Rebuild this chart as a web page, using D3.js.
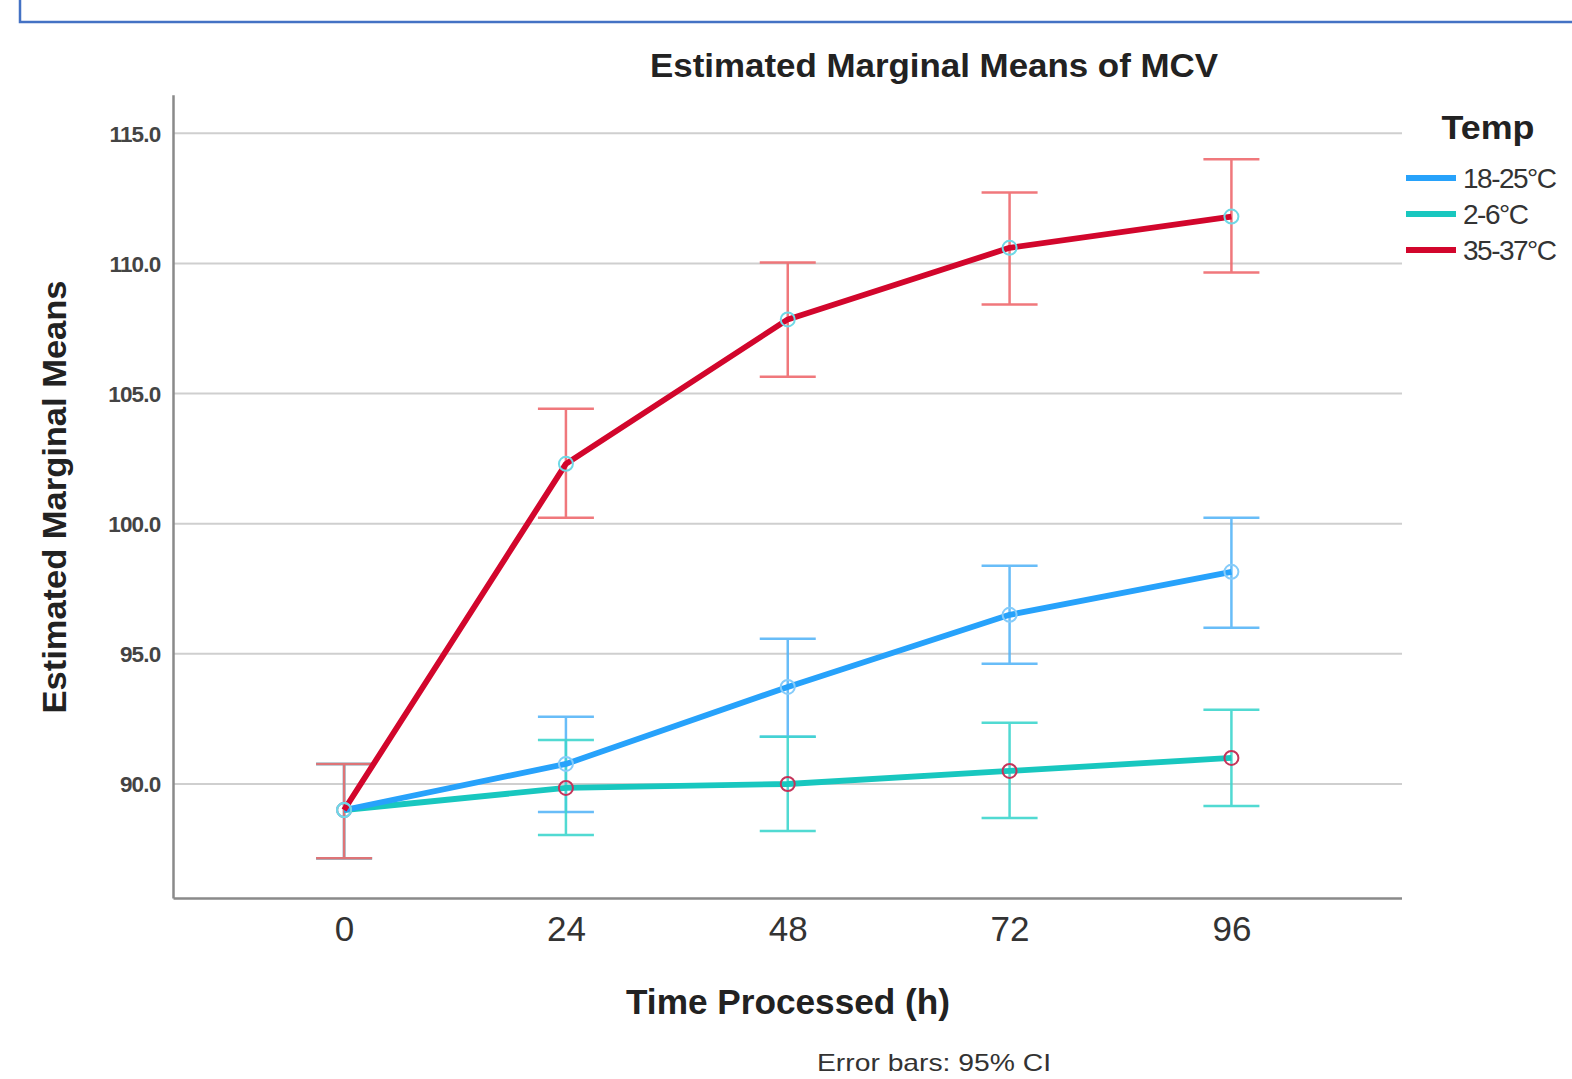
<!DOCTYPE html>
<html><head><meta charset="utf-8">
<script src="https://cdn.jsdelivr.net/npm/d3@7"></script>
<style>body{margin:0;background:#fff;overflow:hidden}svg{display:block}</style>
</head><body>
<svg id="chart" width="1572" height="1079"></svg>
<script>
const times = ["0","24","48","72","96"];
const yTicks = [90,95,100,105,110,115];
const seriesNames = ["18-25°C","2-6°C","35-37°C"];
const mean18 = [89.0, 90.77, 93.73, 96.5, 98.15];
const lo18   = [87.15, 88.92, 91.81, 94.62, 96.0];
const hi18   = [90.77, 92.58, 95.58, 98.38, 100.23];
const mean2  = [89.0, 89.85, 90.0, 90.5, 91.0];
const lo2    = [87.15, 88.04, 88.19, 88.69, 89.15];
const hi2    = [90.77, 91.69, 91.81, 92.35, 92.85];
const mean35 = [89.0, 102.3, 107.85, 110.6, 111.8];
const lo35   = [87.15, 100.23, 105.65, 108.42, 109.65];
const hi35   = [90.77, 104.42, 110.04, 112.73, 114.0];

const lineColors = ["#27a2fb","#18c7bf","#d2062c"];
const barColors  = ["#58b6f8","#3fd6ce","#ef6a6e"];
const markColors = ["#86ccfa","#c5345a","#6fd9e6"];

const svg = d3.select("#chart");
const L=173.5, R=1402, T=95.3, B=898.5;
const x = d3.scalePoint().domain(times).range([L,R]).padding(0.769);
const y = d3.scaleLinear().domain([85.6, 116.46]).range([B,T]);
const font = "Arial, 'Liberation Sans', sans-serif";

// top framed box (cut off)
svg.append("rect").attr("x",20).attr("y",-20).attr("width",1600).attr("height",42)
  .attr("fill","none").attr("stroke","#4472c4").attr("stroke-width",2.5);

// gridlines
svg.append("g").selectAll("line").data(yTicks).join("line")
  .attr("x1",L).attr("x2",R).attr("y1",d=>y(d)).attr("y2",d=>y(d))
  .attr("stroke","#cfcfcf").attr("stroke-width",2);

// y axis
const ya = svg.append("g").attr("transform",`translate(${L},0)`)
  .call(d3.axisLeft(y).tickValues(yTicks).tickFormat(d3.format(".1f")).tickSize(0).tickPadding(13));
ya.select(".domain").remove();
ya.selectAll("text").attr("font-family",font).attr("font-size",22.5)
  .attr("font-weight","bold").attr("fill","#444").attr("letter-spacing",-0.8).attr("dy","0.35em");
svg.append("line").attr("x1",L).attr("x2",L).attr("y1",T).attr("y2",B).attr("stroke","#8a8a8a").attr("stroke-width",2.5);

// x axis
const xa = svg.append("g").attr("transform",`translate(0,${B})`)
  .call(d3.axisBottom(x).tickSize(0).tickPadding(18));
xa.select(".domain").remove();
xa.selectAll("text").attr("font-family",font).attr("font-size",35)
  .attr("fill","#333").attr("dy","0.71em");
svg.append("line").attr("x1",L).attr("x2",R).attr("y1",B).attr("y2",B).attr("stroke","#8a8a8a").attr("stroke-width",2.5);

const series = [
  {m:mean18, lo:lo18, hi:hi18},
  {m:mean2, lo:lo2, hi:hi2},
  {m:mean35, lo:lo35, hi:hi35}
];
const cap = 28;
// error bars
series.forEach((s,i)=>{
  const g = svg.append("g").attr("stroke",barColors[i]).attr("stroke-width",2.5).attr("opacity",0.9);
  times.forEach((t,j)=>{
    const cx = x(t);
    g.append("line").attr("x1",cx).attr("x2",cx).attr("y1",y(s.lo[j])).attr("y2",y(s.hi[j]));
    g.append("line").attr("x1",cx-cap).attr("x2",cx+cap).attr("y1",y(s.lo[j])).attr("y2",y(s.lo[j]));
    g.append("line").attr("x1",cx-cap).attr("x2",cx+cap).attr("y1",y(s.hi[j])).attr("y2",y(s.hi[j]));
  });
});
// lines
const line = d3.line().x((d,j)=>x(times[j])).y(d=>y(d));
[1,0,2].forEach(i=>{
  svg.append("path").attr("d",line(series[i].m)).attr("fill","none")
    .attr("stroke",lineColors[i]).attr("stroke-width",5.8).attr("stroke-linejoin","round");
});
// markers
[1,0,2].forEach(i=>{
  svg.append("g").selectAll("circle").data(series[i].m).join("circle")
    .attr("cx",(d,j)=>x(times[j])).attr("cy",d=>y(d)).attr("r",7)
    .attr("fill","none").attr("stroke",markColors[i]).attr("stroke-width",2);
});

// title
svg.append("text").attr("x",934).attr("y",77).attr("text-anchor","middle")
  .attr("font-family",font).attr("font-weight","bold").attr("font-size",33).attr("fill","#222")
  .attr("textLength",568).attr("lengthAdjust","spacingAndGlyphs")
  .text("Estimated Marginal Means of MCV");
// axis titles
svg.append("text").attr("transform","translate(66,497) rotate(-90)").attr("text-anchor","middle")
  .attr("font-family",font).attr("font-weight","bold").attr("font-size",33).attr("fill","#222")
  .attr("textLength",433).attr("lengthAdjust","spacingAndGlyphs")
  .text("Estimated Marginal Means");
svg.append("text").attr("x",788).attr("y",1014).attr("text-anchor","middle")
  .attr("font-family",font).attr("font-weight","bold").attr("font-size",35).attr("fill","#222")
  .attr("textLength",324).attr("lengthAdjust","spacingAndGlyphs")
  .text("Time Processed (h)");
svg.append("text").attr("x",934).attr("y",1071).attr("text-anchor","middle")
  .attr("font-family",font).attr("font-size",24).attr("fill","#333")
  .attr("textLength",234).attr("lengthAdjust","spacingAndGlyphs")
  .text("Error bars: 95% CI");

// legend
svg.append("text").attr("x",1488).attr("y",139).attr("text-anchor","middle")
  .attr("font-family",font).attr("font-weight","bold").attr("font-size",33).attr("fill","#222")
  .attr("textLength",93).attr("lengthAdjust","spacingAndGlyphs").text("Temp");
const lg = svg.append("g").selectAll("g").data(seriesNames).join("g")
  .attr("transform",(d,i)=>`translate(1406,${178+i*36})`);
lg.append("line").attr("x1",0).attr("x2",50).attr("stroke",(d,i)=>lineColors[i]).attr("stroke-width",6);
lg.append("text").attr("x",57).attr("dy","0.36em").attr("font-family",font).attr("font-size",28)
  .attr("fill","#333").attr("letter-spacing",-1.5).text(d=>d);
</script>
</body></html>
